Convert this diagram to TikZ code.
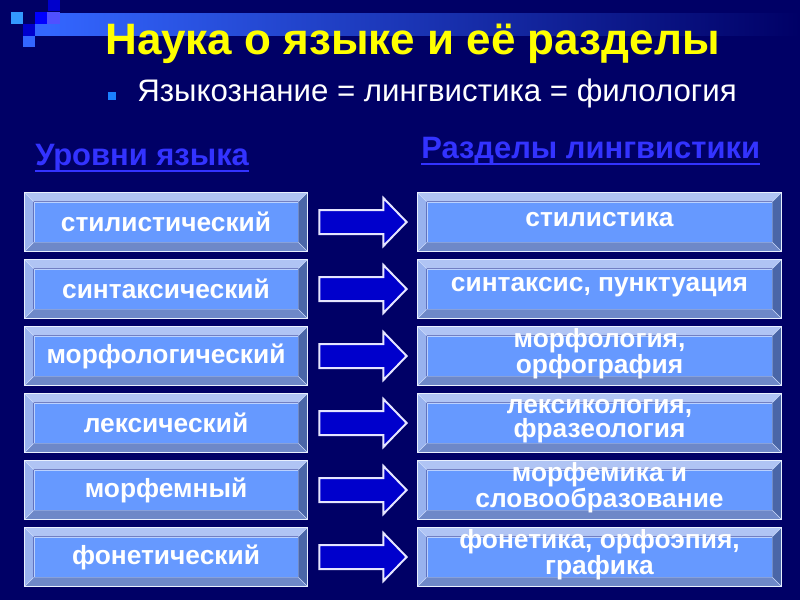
\documentclass[tikz,border=0pt]{standalone}
\usepackage{fontspec}
\setmainfont{Liberation Sans}
\usetikzlibrary{calc}
\definecolor{bg}{HTML}{000066}
\definecolor{face}{HTML}{6699FF}
\definecolor{bvtop}{HTML}{B0C4F4}
\definecolor{bvleft}{HTML}{98B2EE}
\definecolor{bvbot}{HTML}{6E88C8}
\definecolor{bvright}{HTML}{4A66A8}
\definecolor{arrowblue}{HTML}{0000CC}
\definecolor{headblue}{HTML}{3333FF}
\definecolor{titleyellow}{HTML}{FFFF00}
\definecolor{bullet}{HTML}{1A80FF}
\definecolor{sqA}{HTML}{0000CC}
\definecolor{sqB}{HTML}{3399FF}
\definecolor{sqC}{HTML}{0000FF}
\definecolor{sqD}{HTML}{5050FF}
\definecolor{sqE}{HTML}{3366FF}
\tikzset{
  lbox/.style={fill=face, draw=white!55!face, line width=0.6pt, inner sep=0pt, minimum width=198pt, minimum height=30pt},
  rbox/.style={lbox, minimum width=258.75pt},
  boxtext/.style={inner sep=0pt, text=white, align=center, font=\fontsize{19.75}{15.75}\selectfont\bfseries},
  blockarrow/.style={fill=arrowblue, draw=white!90!blue, line width=1.5pt, line join=miter},
  heading/.style={text=headblue, font=\fontsize{23.2}{26}\selectfont\bfseries, inner sep=0pt, anchor=base west},
}
\newcommand\bev[1]{%
  \fill[bvtop] ($(#1.north west)+(-9,-9)$) -- ($(#1.north east)+(9,-9)$) -- (#1.north east) -- (#1.north west) -- cycle;
  \fill[bvleft] ($(#1.north west)+(-9,-9)$) -- ($(#1.south west)+(-9,9)$) -- (#1.south west) -- (#1.north west) -- cycle;
  \fill[bvbot] ($(#1.south west)+(-9,9)$) -- ($(#1.south east)+(9,9)$) -- (#1.south east) -- (#1.south west) -- cycle;
  \fill[bvright] ($(#1.north east)+(9,-9)$) -- ($(#1.south east)+(9,9)$) -- (#1.south east) -- (#1.north east) -- cycle;
  \draw[white!70!face, line width=0.5pt] ($(#1.north west)+(-9,-9)$) -- (#1.north west) ($(#1.south west)+(-9,9)$) -- (#1.south west) ($(#1.north east)+(9,-9)$) -- (#1.north east) ($(#1.south east)+(9,9)$) -- (#1.south east);
  \draw[white!85!face, line width=0.9pt] ($(#1.north west)+(-9,-9)$) rectangle ($(#1.south east)+(9,9)$);
}
\begin{document}
\begin{tikzpicture}[x=0.75pt,y=-0.75pt]
\fill[bg] (0,0) rectangle (800,600);
\useasboundingbox (0,0) rectangle (800,600);
% top decoration
\shade[left color=sqE, right color=bg] (47,13) rectangle (800,35);
\fill[sqA] (48,0) rectangle (60,11);
\fill[sqB] (11,12) rectangle (23,24);
\fill[sqC] (35,12) rectangle (47,24);
\fill[sqD] (47,12) rectangle (60,24);
\fill[sqA] (23,24) rectangle (35,36);
\fill[sqE] (35,24) rectangle (47,36);
\fill[sqE] (23,36) rectangle (35,47);
% title
\node[anchor=base, inner sep=0pt, text=titleyellow, font=\fontsize{33}{36}\selectfont\bfseries] (title) at (412.5,54) {Наука о языке и её разделы};
% bullet line
\fill[bullet] (108,92) rectangle (116,100);
\node[anchor=base west, inner sep=0pt, text=white, font=\fontsize{23.4}{26}\selectfont] (sub) at (137,101) {Языкознание = лингвистика = филология};
% headings
\node[heading] (h1) at (35,165) {Уровни языка};
\draw[headblue, line width=1.5pt] ($(h1.base west)+(0,5.5)$) -- ($(h1.base east)+(0,5.5)$);
\node[heading] (h2) at (421,158) {Разделы лингвистики};
\draw[headblue, line width=1.5pt] ($(h2.base west)+(0,5.5)$) -- ($(h2.base east)+(0,5.5)$);
% rows
\foreach \i/\lt/\rt in {0/{стилистический}/{стилистика},
  1/{синтаксический}/{синтаксис, пунктуация},
  2/{морфологический}/{морфология,\\орфография},
  3/{лексический}/{лексикология,\\фразеология},
  4/{морфемный}/{морфемика и\\словообразование},
  5/{фонетический}/{фонетика, орфоэпия,\\графика}}{
  \pgfmathsetmacro\yc{193+67*\i+29}
  \node[lbox] (L\i) at (166,\yc) {};
  \bev{L\i}
  \node[boxtext] (LT\i) at (L\i.center) {\lt};
  \node[rbox] (R\i) at (599.5,\yc) {};
  \bev{R\i}
  \node[boxtext] (RT\i) at ($(R\i.center)+(0,-2)$) {\rt};
  \draw[blockarrow] ($(L\i.east)+(21,-12)$) -- ($(L\i.east)+(85,-12)$) -- ($(L\i.east)+(85,-24)$) -- ($(R\i.west)+(-20,0)$) -- ($(L\i.east)+(85,24)$) -- ($(L\i.east)+(85,12)$) -- ($(L\i.east)+(21,12)$) -- cycle;
}
\end{tikzpicture}
\end{document}
